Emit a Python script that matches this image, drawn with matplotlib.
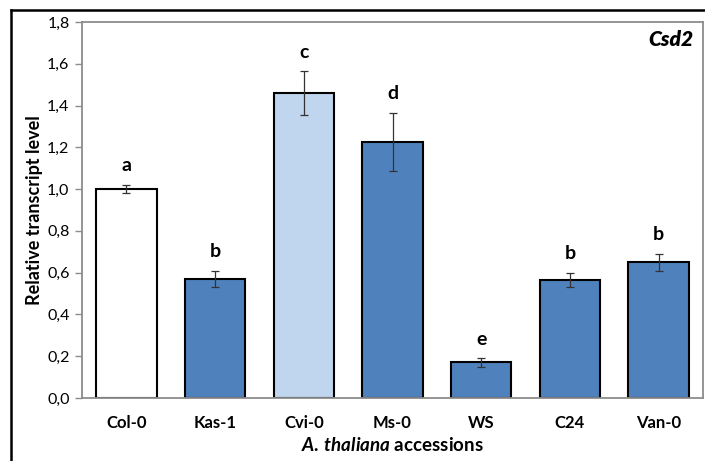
import numpy as np
import matplotlib
matplotlib.use("Agg")
import matplotlib.pyplot as plt
from matplotlib.ticker import FuncFormatter
from matplotlib.lines import Line2D

accessions = ["Col-0", "Kas-1", "Cvi-0", "Ms-0", "WS", "C24", "Van-0"]
levels     = [1.00, 0.57, 1.46, 1.225, 0.17, 0.565, 0.65]
errors     = [0.02, 0.04, 0.105, 0.14, 0.02, 0.035, 0.04]
groups     = ["a", "b", "c", "d", "e", "b", "b"]
kinds      = ["ref", "dark", "light", "dark", "dark", "dark", "dark"]

FILL = {"ref": "#ffffff", "dark": "#4f81bd", "light": "#c0d5ee"}
GRAY = "#8c8c8c"

plt.rcParams.update({
    "font.family": ["Lato", "DejaVu Sans"],
    "font.size": 11.5,
    "mathtext.fontset": "custom",
    "mathtext.rm": "Lato:bold",
    "mathtext.bf": "Lato:bold",
    "mathtext.it": "Lato:italic:bold",
})

fig = plt.figure(figsize=(7.05, 4.61), dpi=100)
ax = fig.add_axes([82 / 705, 1 - 398 / 461, 621 / 705, 376 / 461])

x = np.arange(len(accessions))
ax.bar(x, levels, width=0.68, color=[FILL[k] for k in kinds],
       edgecolor="black", linewidth=1.5, zorder=2)
ax.errorbar(x, levels, yerr=errors, fmt="none", ecolor="#333333",
            elinewidth=0.9, capsize=3, capthick=0.9, zorder=3)

for xi, v, e, g in zip(x, levels, errors, groups):
    ax.text(xi, v + e + 0.05, g, ha="center", va="bottom",
            fontsize=14, fontweight="bold")

ax.set_xlim(-0.5, len(accessions) - 0.5)
ax.set_ylim(0, 1.8)
ax.set_yticks(np.arange(0, 1.81, 0.2))
ax.yaxis.set_major_formatter(FuncFormatter(lambda v, p: f"{v:.1f}".replace(".", ",")))
ax.set_xticks(x)
ax.set_xticklabels(accessions, fontweight="bold", fontsize=12)
ax.tick_params(axis="x", length=0, pad=12)
ax.tick_params(axis="y", length=5, color=GRAY, width=1, pad=4)

for s in ax.spines.values():
    s.set_color(GRAY)
    s.set_linewidth(1.3)

ax.set_ylabel("Relative transcript level", fontweight="bold", fontsize=13, labelpad=3)
ax.text(0.5, -0.125, r"$\mathit{A.\,thaliana}$ accessions",
        transform=ax.transAxes, ha="center", va="center",
        fontsize=13.5, fontweight="bold")
ax.text(0.985, 0.98, "Csd2", transform=ax.transAxes, ha="right", va="top",
        fontsize=15, fontweight="heavy", fontstyle="italic")

# outer frame (cut off on right and bottom)
fig.add_artist(Line2D([11 / 705, 1.0], [1 - 10 / 461] * 2, color="black", lw=1.8,
                      transform=fig.transFigure))
fig.add_artist(Line2D([11 / 705] * 2, [0, 1 - 10 / 461], color="black", lw=1.8,
                      transform=fig.transFigure))

fig.savefig("out.png", dpi=100)
